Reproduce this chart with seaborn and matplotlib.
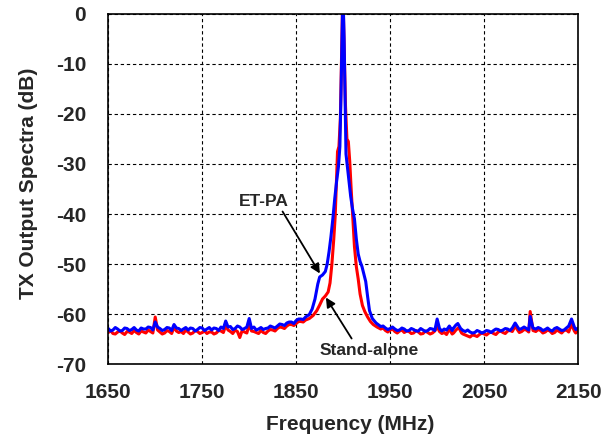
import matplotlib
matplotlib.use("Agg")
import matplotlib.pyplot as plt
import seaborn as sns
import pandas as pd

# ---------------- data ----------------
# Stand-alone (red): main trace points
sa_freq = [1650, 1655, 1660, 1665, 1670, 1675, 1680, 1685, 1690, 1695,
           1700, 1705, 1710, 1715, 1720, 1725, 1730, 1735, 1740, 1745,
           1750, 1755, 1760, 1765, 1770, 1775, 1780, 1785, 1790, 1795,
           1800, 1805, 1810, 1815, 1820, 1825, 1830, 1835, 1840, 1845,
           1850, 1855, 1860,
           1864, 1868, 1872, 1875, 1878, 1881, 1884, 1886, 1888, 1890,
           1891.5, 1893, 1894, 1895.5, 1897, 1898.3, 1899.2, 1900.2, 1901.2, 1902.5,
           1904, 1905.5, 1907, 1908.5, 1910, 1912, 1914, 1916, 1918, 1920.5,
           1923, 1926, 1929, 1932, 1936,
           1940, 1945, 1950, 1955, 1960, 1965, 1970, 1975, 1980, 1985,
           1990, 1995, 2000, 2005, 2010, 2013, 2016, 2020, 2023, 2026,
           2030, 2035, 2040, 2045, 2050, 2055, 2060, 2065, 2070, 2075,
           2080, 2083, 2086, 2090, 2095, 2099, 2102, 2105, 2110, 2115,
           2120, 2125, 2130, 2135, 2140, 2143, 2146, 2150]
sa_db = [-63.7, -63.9, -63.6, -63.8, -63.5, -63.9, -63.7, -63.4, -63.8, -63.5,
         -60.6, -63.6, -63.8, -63.5, -62.6, -63.7, -63.9, -63.6, -63.8, -63.5,
         -63.7, -63.9, -63.6, -63.8, -63.4, -62.3, -63.5, -63.2, -64.7, -63.6,
         -62.1, -63.5, -63.9, -63.7, -63.4, -63.2, -62.9, -62.7, -62.4, -62.1,
         -61.9, -61.5, -61.2,
         -60.9, -60.3, -59.3, -58.2, -57.0, -56.4, -55.6, -53.8, -50.0, -45.0,
         -40.5, -33.0, -27.5, -26.5, -21.0, -8.0, 0.5, 0.5, -8.0, -18.5,
         -25.0, -25.5, -29.5, -35.0, -40.0, -46.5, -50.5, -53.0, -56.0, -58.3,
         -59.5, -60.6, -61.5, -62.1, -62.6,
         -63.0, -63.3, -63.2, -63.5, -63.4, -63.7, -63.5, -63.8, -63.6, -63.9,
         -63.7, -63.8, -62.5, -63.9, -64.1, -63.0, -64.0, -63.2, -62.7, -63.8,
         -64.2, -64.6, -64.3, -64.1, -64.0, -63.8, -63.9, -63.6, -63.7, -63.4,
         -63.5, -62.4, -63.3, -63.5, -63.2, -59.5, -63.3, -63.5, -63.3, -63.6,
         -63.4, -63.7, -63.5, -63.3, -63.6, -62.0, -63.4, -63.2]

# Stand-alone (red): extra noise-floor points in between
sa_freq_mid = [1652.5, 1657.5, 1662.5, 1667.5, 1672.5, 1677.5, 1682.5, 1687.5,
               1692.5, 1697.5, 1702.5, 1707.5, 1712.5, 1717.5, 1722.5, 1727.5,
               1732.5, 1737.5, 1742.5, 1747.5, 1752.5, 1757.5, 1762.5, 1767.5,
               1772.5, 1777.5, 1782.5, 1787.5, 1792.5, 1797.5, 1802.5, 1807.5,
               1812.5, 1817.5, 1822.5, 1827.5, 1832.5, 1837.5, 1842.5, 1847.5,
               1852.5, 1857.5,
               1942.5, 1947.5, 1952.5, 1957.5, 1962.5, 1967.5, 1972.5, 1977.5,
               1982.5, 1987.5, 1992.5, 1997.5, 2002.5, 2007.5, 2017.5, 2027.5,
               2032.5, 2037.5, 2042.5, 2047.5, 2052.5, 2057.5, 2062.5, 2067.5,
               2072.5, 2077.5, 2087.5, 2092.5, 2097.5, 2107.5, 2112.5, 2117.5,
               2122.5, 2127.5, 2132.5, 2137.5, 2147.5]
sa_db_mid = [-63.3, -64.0, -63.4, -64.1, -63.6, -63.3, -64.0, -63.6,
             -63.2, -63.8, -63.2, -64.0, -63.3, -63.9, -63.4, -63.5,
             -63.2, -64.0, -63.3, -63.9, -63.4, -63.6, -64.0, -63.3,
             -63.7, -63.2, -63.9, -63.5, -63.3, -63.8, -63.4, -63.7,
             -63.3, -63.9, -63.1, -63.4, -62.6, -62.9, -62.1, -62.3,
             -61.5, -61.6,
             -62.8, -63.6, -63.0, -63.8, -63.2, -63.4, -63.9, -63.3,
             -64.0, -63.4, -64.0, -63.4, -63.5, -63.7, -63.8, -64.0,
             -64.4, -64.2, -64.5, -63.8, -64.2, -63.6, -64.1, -63.4,
             -63.9, -63.3, -63.7, -63.1, -63.6, -63.1, -63.8, -63.2,
             -63.9, -63.2, -63.8, -63.2, -63.8]

# ET-PA (blue): main trace points
et_freq = [1650, 1655, 1660, 1665, 1670, 1675, 1680, 1685, 1690, 1695,
           1700, 1705, 1710, 1715, 1720, 1725, 1730, 1735, 1740, 1745,
           1750, 1755, 1760, 1765, 1770, 1775, 1780, 1785, 1790, 1795,
           1800, 1805, 1810, 1815, 1820, 1825, 1830, 1835, 1840, 1845,
           1850, 1855, 1860,
           1864, 1867, 1870, 1873, 1875, 1878, 1881, 1883, 1885, 1887,
           1889, 1891, 1893, 1895, 1896.5, 1897.7, 1898.7, 1899.3, 1900.3, 1901,
           1902, 1903, 1904.5, 1906, 1908, 1910, 1912, 1914, 1916, 1918,
           1920, 1922, 1924, 1926, 1928, 1931, 1935,
           1940, 1945, 1950, 1955, 1960, 1965, 1970, 1975, 1980, 1985,
           1990, 1995, 2000, 2003, 2005, 2010, 2013, 2016, 2020, 2022,
           2025, 2030, 2035, 2040, 2045, 2050, 2055, 2060, 2065, 2070,
           2075, 2080, 2083, 2086, 2090, 2095, 2099, 2102, 2105, 2110,
           2115, 2120, 2125, 2130, 2135, 2140, 2143, 2146, 2150]
et_db = [-62.9, -63.2, -63.0, -63.3, -62.9, -63.1, -63.2, -62.8, -63.0, -62.7,
         -61.6, -62.9, -63.1, -62.8, -62.1, -62.9, -63.0, -63.2, -62.9, -63.1,
         -62.8, -63.0, -63.2, -62.9, -62.6, -61.4, -62.5, -62.9, -62.6, -62.9,
         -60.9, -62.6, -63.0, -63.1, -62.8, -62.6, -62.4, -62.1, -61.8, -61.6,
         -61.3, -61.0, -60.6,
         -60.1, -59.0, -57.0, -54.0, -52.6, -52.2, -51.5, -50.0, -47.5, -44.5,
         -41.0, -37.0, -33.5, -30.5, -26.5, -16.0, -5.0, 0.5, 0.5, -5.0,
         -17.0, -28.0, -30.5, -33.0, -36.5, -39.0, -41.0, -45.0, -48.0, -49.5,
         -50.5, -52.0, -53.5, -56.5, -59.3, -60.9, -61.8,
         -62.5, -62.8, -62.9, -63.0, -63.2, -63.0, -63.3, -63.1, -63.4, -63.2,
         -63.3, -63.0, -61.0, -63.0, -63.4, -63.2, -62.4, -63.3, -62.2, -61.9,
         -62.9, -63.5, -63.6, -63.7, -63.5, -63.6, -63.4, -63.3, -63.1, -63.2,
         -63.0, -62.8, -61.8, -62.7, -62.9, -62.9, -60.5, -62.8, -63.0, -62.9,
         -63.1, -63.2, -62.9, -63.0, -63.2, -62.4, -61.0, -62.6, -62.8]

# ET-PA (blue): extra noise-floor points in between
et_freq_mid = [1652.5, 1657.5, 1662.5, 1667.5, 1672.5, 1677.5, 1682.5, 1687.5,
               1692.5, 1697.5, 1702.5, 1707.5, 1712.5, 1717.5, 1722.5, 1727.5,
               1732.5, 1737.5, 1742.5, 1747.5, 1752.5, 1757.5, 1762.5, 1767.5,
               1772.5, 1777.5, 1782.5, 1787.5, 1792.5, 1797.5, 1802.5, 1807.5,
               1812.5, 1817.5, 1822.5, 1827.5, 1832.5, 1837.5, 1842.5, 1847.5,
               1852.5, 1857.5,
               1942.5, 1947.5, 1952.5, 1957.5, 1962.5, 1967.5, 1972.5, 1977.5,
               1982.5, 1987.5, 1992.5, 1997.5, 2002.5, 2007.5, 2017.5, 2027.5,
               2032.5, 2037.5, 2042.5, 2047.5, 2052.5, 2057.5, 2062.5, 2067.5,
               2072.5, 2077.5, 2087.5, 2092.5, 2097.5, 2107.5, 2112.5, 2117.5,
               2122.5, 2127.5, 2132.5, 2137.5, 2147.5]
et_db_mid = [-63.4, -62.7, -63.4, -62.8, -63.3, -62.7, -63.4, -63.0,
             -62.6, -63.2, -62.6, -63.3, -62.7, -63.3, -62.8, -63.3,
             -62.7, -62.8, -63.4, -62.7, -63.3, -62.7, -62.8, -63.3,
             -62.9, -62.6, -63.1, -62.4, -63.1, -62.6, -62.9, -63.2,
             -62.7, -62.9, -62.4, -62.8, -62.0, -62.3, -61.6, -61.9,
             -61.0, -61.1,
             -62.4, -63.1, -62.6, -63.3, -62.8, -63.4, -62.9, -63.4,
             -62.9, -63.5, -62.9, -63.3, -62.9, -63.0, -62.8, -63.3,
             -63.2, -63.8, -63.3, -63.8, -63.3, -63.7, -63.0, -63.4,
             -62.9, -63.3, -63.1, -62.6, -63.2, -62.7, -63.3, -62.8,
             -63.4, -62.7, -63.3, -62.8, -63.1]

x_ticks = [1650, 1750, 1850, 1950, 2050, 2150]
y_ticks = [-70, -60, -50, -40, -30, -20, -10, 0]

# ---------------- plotting ----------------
sns.set_style("white")
plt.rcParams["font.family"] = ["Liberation Sans", "DejaVu Sans"]
plt.rcParams["font.weight"] = "bold"

fig = plt.figure(figsize=(6.15, 4.37), dpi=100)
ax = fig.add_axes([0.176, 0.167, 0.764, 0.801])

sa = pd.DataFrame({"freq": sa_freq + sa_freq_mid, "db": sa_db + sa_db_mid})
et = pd.DataFrame({"freq": et_freq + et_freq_mid, "db": et_db + et_db_mid})

sns.lineplot(data=sa, x="freq", y="db", color="#ff0000", lw=2.2, ax=ax,
             sort=True, estimator=None)
sns.lineplot(data=et, x="freq", y="db", color="#0000ff", lw=2.2, ax=ax,
             sort=True, estimator=None)

ax.set_xlim(1650, 2150)
ax.set_ylim(-70, 0)
ax.set_xticks(x_ticks)
ax.set_yticks(y_ticks)
ax.set_xticklabels([str(t) for t in x_ticks], fontsize=15, fontweight="bold")
ax.set_yticklabels([str(t) for t in y_ticks], fontsize=15, fontweight="bold")

ax.grid(True, color="black", linestyle=(0, (3, 2.5)), linewidth=0.8)
ax.set_axisbelow(True)
for s in ax.spines.values():
    s.set_visible(True)
    s.set_color("black")
    s.set_linewidth(1.2)
ax.tick_params(axis="both", which="major", direction="out", length=4,
               width=0.8, color="black")
ax.tick_params(axis="x", pad=10)
ax.tick_params(axis="y", pad=12)

ax.set_xlabel("Frequency (MHz)", fontsize=15, fontweight="bold")
ax.set_ylabel("TX Output Spectra (dB)", fontsize=15, fontweight="bold")
ax.xaxis.label.set_va("center")
ax.yaxis.label.set_va("center")
ax.xaxis.set_label_coords(0.514, -0.174)
ax.yaxis.set_label_coords(-0.169, 0.516)

arrow_kw = dict(arrowstyle="-|>", color="black", lw=1.3, mutation_scale=14,
                shrinkA=0, shrinkB=0)
ax.annotate("", xy=(1875.2, -51.9), xytext=(1835.5, -39.5), arrowprops=arrow_kw)
ax.text(1815.6, -37.4, "ET-PA", ha="center", va="center", fontsize=12.5,
        fontweight="bold")
ax.annotate("", xy=(1881.6, -56.7), xytext=(1909.0, -64.9), arrowprops=arrow_kw)
ax.text(1928.0, -67.3, "Stand-alone", ha="center", va="center", fontsize=12.5,
        fontweight="bold")

fig.savefig("out.png", dpi=100)
